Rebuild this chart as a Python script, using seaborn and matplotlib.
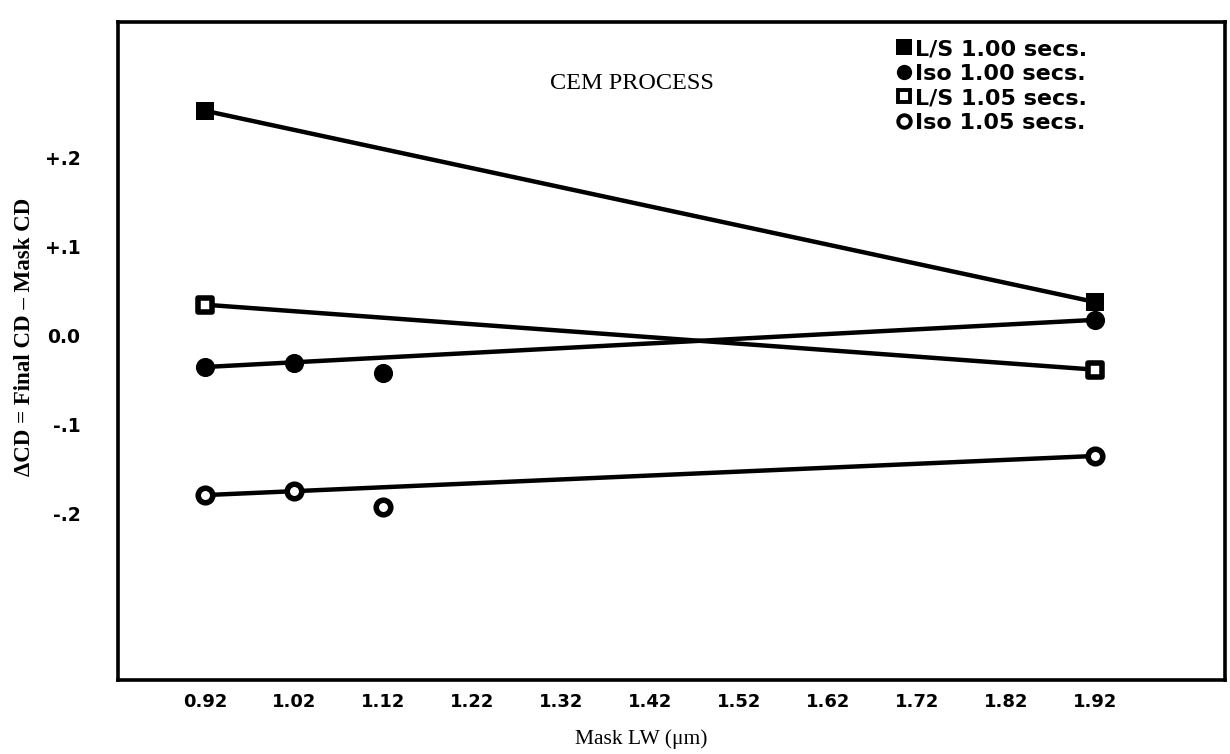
import matplotlib
matplotlib.use("Agg")
import matplotlib.pyplot as plt
from matplotlib.lines import Line2D
import numpy as np
import pandas as pd
import seaborn as sns

# Mask line width (um) and CD bias for each process condition
mask_lw_ls = [0.92, 1.92]
ls_100 = [0.253, 0.038]
ls_105 = [0.035, -0.038]

mask_lw_iso = [0.92, 1.02, 1.12, 1.92]
iso_100 = [-0.035, -0.031, -0.042, 0.018]
iso_105 = [-0.179, -0.174, -0.192, -0.135]

series_labels = ["L/S 1.00 secs.", "Iso 1.00 secs.", "L/S 1.05 secs.", "Iso 1.05 secs."]
x_ticks = [0.92, 1.02, 1.12, 1.22, 1.32, 1.42, 1.52, 1.62, 1.72, 1.82, 1.92]
y_ticks = [0.2, 0.1, 0.0, -0.1, -0.2]
y_tick_labels = ["+.2", "+.1", "0.0", "-.1", "-.2"]

sns.set_theme(style="white")
plt.rcParams["font.family"] = ["DejaVu Sans"]
plt.rcParams["text.color"] = "black"

frames = []
for label, xs, ys in [
    (series_labels[0], mask_lw_ls, ls_100),
    (series_labels[1], mask_lw_iso, iso_100),
    (series_labels[2], mask_lw_ls, ls_105),
    (series_labels[3], mask_lw_iso, iso_105),
]:
    frames.append(pd.DataFrame({"lw": xs, "dcd": ys, "series": label}))
df = pd.concat(frames, ignore_index=True)

fig = plt.figure(figsize=(12.30, 7.54), dpi=100)
ax = fig.add_axes([0.096, 0.098, 0.900, 0.873])

styles = {
    series_labels[0]: dict(marker="s", face="black"),
    series_labels[1]: dict(marker="o", face="black"),
    series_labels[2]: dict(marker="s", face="white"),
    series_labels[3]: dict(marker="o", face="white"),
}

for label in series_labels:
    sub = df[df["series"] == label]
    # trend line joins the smallest and largest mask widths
    ends = sub.iloc[[0, -1]]
    sns.lineplot(data=ends, x="lw", y="dcd", ax=ax, color="black",
                 linewidth=3.2, legend=False, zorder=2)
    st = styles[label]
    filled = st["face"] == "black"
    sns.scatterplot(data=sub, x="lw", y="dcd", ax=ax, marker=st["marker"],
                    s=(170 if st["marker"] == "s" else 190) if filled else 110,
                    facecolor=st["face"], edgecolor="black",
                    linewidth=0 if filled else 4.0,
                    legend=False, zorder=3)

ax.set_xlim(0.822, 2.066)
ax.set_ylim(-0.387, 0.353)

ax.set_xticks(x_ticks)
ax.set_xticklabels([f"{v:.2f}" for v in x_ticks], fontsize=13, fontweight="bold")
ax.set_yticks(y_ticks)
ax.set_yticklabels(y_tick_labels, fontsize=13.5, fontweight="bold")
ax.tick_params(axis="both", direction="in", length=6, width=2, color="black",
               labelcolor="black")
ax.tick_params(axis="y", pad=27)
ax.tick_params(axis="x", pad=9)

for side in ["left", "bottom", "top", "right"]:
    ax.spines[side].set_visible(True)
    ax.spines[side].set_color("black")
    ax.spines[side].set_linewidth(2.6)

ax.set_xlabel("Mask LW (\u03bcm)", fontsize=15.5, family="Liberation Serif",
              color="black")
ax.xaxis.set_label_coords(0.473, -0.075)
ax.set_ylabel("\u0394CD = Final CD \u2013 Mask CD", fontsize=16.5,
              family="Liberation Serif", fontweight="bold", color="black")
ax.yaxis.set_label_coords(-0.075, 0.521)

ax.text(0.39, 0.906, "CEM PROCESS", transform=ax.transAxes, fontsize=17.5,
        family="Liberation Serif", color="black", ha="left", va="center")

handles = []
for label in series_labels:
    st = styles[label]
    filled = st["face"] == "black"
    handles.append(Line2D([], [], linestyle="none", marker=st["marker"],
                          markersize=11 if filled else 9,
                          markerfacecolor=st["face"], markeredgecolor="black",
                          markeredgewidth=0 if filled else 2.8))
leg = ax.legend(handles, series_labels, loc="upper left",
                bbox_to_anchor=(0.6855, 1.004), frameon=False,
                handlelength=0.6, handletextpad=0.2, labelspacing=0.2,
                prop={"size": 16, "weight": "bold"})
for t in leg.get_texts():
    t.set_color("black")

fig.savefig("out.png", dpi=100, facecolor="white")
